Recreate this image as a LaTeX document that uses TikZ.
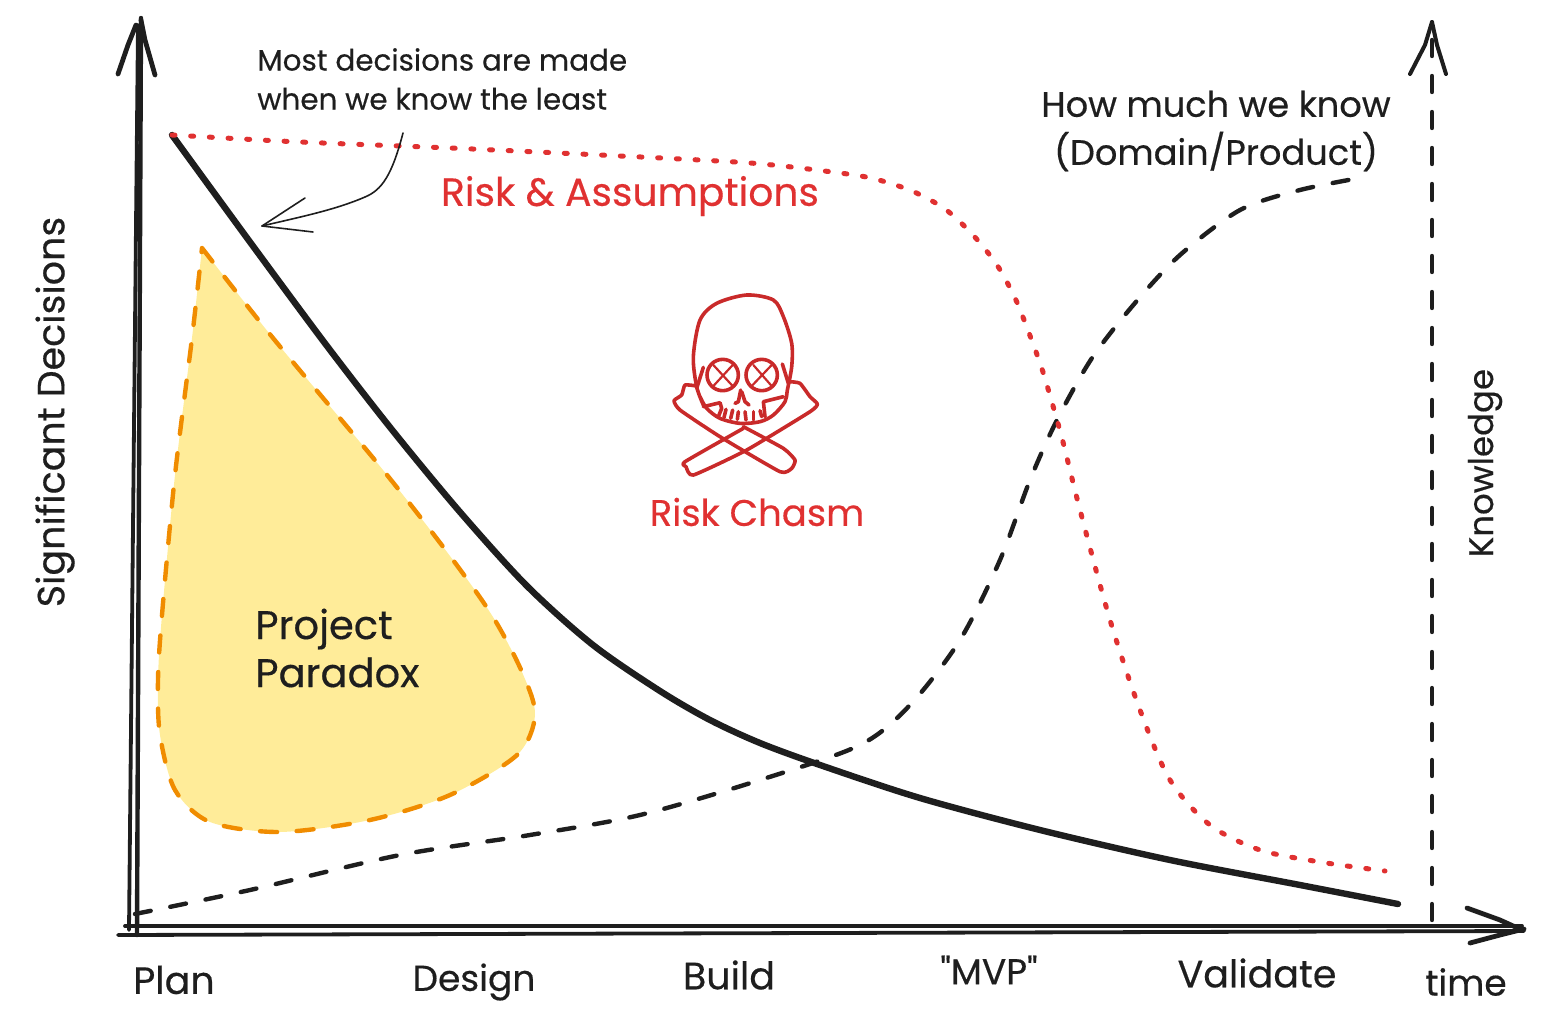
\documentclass[tikz,border=0pt]{standalone}
\usepackage{fontspec}
\newfontfamily\handfont[FakeBold=0.4]{Poppins}
\definecolor{inkblack}{HTML}{1E1E1E}
\definecolor{riskred}{HTML}{E03131}
\definecolor{skullred}{HTML}{C92A2A}
\definecolor{blobfill}{HTML}{FFEC99}
\definecolor{blobline}{HTML}{F08C00}
\tikzset{
	sketch/.style={draw=inkblack,line cap=round,line join=round},
	axis line/.style={sketch,line width=1.9pt},
	arrow head/.style={sketch,line width=2.4pt},
	dash line/.style={sketch,line width=2.2pt,dash pattern=on 8pt off 10pt},
	label small/.style={text=inkblack,font=\handfont\fontsize{14.7}{19.5}\selectfont,align=left,inner sep=0pt},
	label big/.style={text=inkblack,font=\handfont\fontsize{#1}{24}\selectfont,align=center,inner sep=0pt},
	label big/.default=17,
	label red/.style={label big=#1,text=riskred},
	skull line/.style={draw=skullred,line width=1.8pt,line cap=round,line join=round},
}
\begin{document}
\begin{tikzpicture}[x=0.5pt,y=-0.5pt]
	\useasboundingbox (0,0) rectangle (1543,1028);
	% project paradox
	\draw[draw=blobline,fill=blobfill,line width=2.2pt,line cap=round,dash pattern=on 8.5pt off 9.8pt]
		plot[smooth] coordinates {(202,248) (273,338) (383,470) (450,556) (493,617) (522,672) (535,715) (517,755) (450,795) (370,820) (280,832) (210,822) (175,790) (160,735) (158,680) (162,615) (175,475) (192,338) (202,248)};
	% knowledge curve
	\draw[dash line]
		plot[smooth] coordinates {(135,914) (250,890) (400,855) (530,835) (640,815) (760,780) (860,745) (910,705) (960,640) (1000,560) (1030,480) (1057,420) (1092,358) (1135,303) (1180,255) (1240,210) (1300,190) (1365,177)};
	% decisions curve
	\draw[sketch,line width=3.2pt]
		plot[smooth] coordinates {(172,135) (250,242) (327,346) (393,431) (460,512) (527,586) (593,645) (660,691) (710,720) (760,743) (820,765) (920,798) (1040,830) (1170,860) (1300,885) (1398,904)};
	% risk curve
	\draw[draw=riskred,line width=2.5pt,line cap=round,dash pattern=on 1.5pt off 7.85pt]
		plot[smooth] coordinates {(172,135) (300,142) (450,148) (600,155) (750,163) (840,173) (875,179) (912,191) (945,209) (973,235) (997,265) (1015,298) (1029,333) (1042,369) (1053,406) (1063,442) (1080,510) (1110,620) (1140,710) (1170,780) (1210,825) (1260,850) (1320,862) (1385,871)};
	% axes
	\coordinate (origin) at (129,930);
	\coordinate (ytop) at (138,25);
	\coordinate (xend) at (1524,931);
	\coordinate (ktop) at (1432,40);
	\coordinate (kbottom) at (1432,926);
	\draw[axis line] (origin)-- (ytop);
	\draw[axis line,line width=2.2pt] (137,935)-- (141,18);
	\draw[arrow head] (118,74)-- (128,45)-- (136,25);
	\draw[arrow head] (155,75)-- (145,40)-- (141,20);
	\draw[axis line] (118,935)-- (xend);
	\draw[axis line] (125,926)-- (1522,926);
	\draw[arrow head] (1467,908)-- (1500,920)-- (1522,930);
	\draw[arrow head] (1470,943)-- (1500,935)-- (1524,929);
	\draw[dash line] (ktop)-- (kbottom);
	\draw[arrow head,line width=2pt] (1410,74)-- (1425,45)-- (1432,22);
	\draw[arrow head,line width=2pt] (1446,74)-- (1437,45)-- (1432,22);
	% annotation arrow
	\draw[sketch,line width=0.8pt] (403,133) .. controls (392,175) and (382,190) .. (365,197) .. controls (335,210) and (300,217) .. (262,226);
	\draw[sketch,line width=0.8pt] (305,198)-- (262,226)-- (313,232);
	% skull
	\begin{scope}[shift={(650,280)},x=0.1667pt,y=-0.1667pt]
		\draw[skull line] plot[smooth] coordinates {(160,375) (140,320) (130,230) (150,120) (200,70) (290,45) (370,60) (400,110) (425,190) (425,260) (412,330) (405,365) (370,405) (330,425) (270,430) (210,415) (170,385) (150,350)};
		\draw[skull line] (218,285) circle[radius=47];
		\draw[skull line] (335,285) circle[radius=47];
		\draw[skull line,line width=1.1pt] (190,255)-- (248,318) (248,255)-- (190,318);
		\draw[skull line,line width=1.1pt] (305,318)-- (365,255) (310,255)-- (365,318);
		\draw[skull line] (160,262)-- (140,325);
		\draw[skull line] (397,252)-- (415,310);
		\draw[skull line] (272,330)-- (265,365)-- (255,370);
		\draw[skull line] (275,335)-- (285,365)-- (297,375);
		\draw[skull line] (160,380)-- (210,368)-- (215,385)-- (205,410);
		\draw[skull line] (345,410)-- (340,365)-- (400,350);
		\draw[skull line] (228,388)-- (222,412);
		\draw[skull line] (248,390)-- (242,415);
		\draw[skull line] (265,395)-- (262,418);
		\draw[skull line] (285,395)-- (288,420);
		\draw[skull line] (310,395)-- (310,420);
		\draw[skull line] (330,392)-- (335,410);
		\draw[skull line] plot[smooth,tension=0.3] coordinates {(140,318) (105,315) (95,345) (72,362) (90,390) (210,470) (390,575) (425,565) (435,540) (400,505) (280,440)};
		\draw[skull line] plot[smooth,tension=0.3] coordinates {(420,305) (450,310) (480,350) (502,372) (480,395) (290,510) (130,585) (108,560) (105,545) (280,445)};
	\end{scope}
	% labels
	\node[label small,anchor=west] (mostdecisions) at (257,79) {Most decisions are made\\when we know the least};
	\node[label big=17.6] (howmuch) at (1216,131) {How much we know\\(Domain/Product)};
	\node[label red=19.6] (riskassumptions) at (630,196) {Risk \& Assumptions};
	\node[label red=18.5] (riskchasm) at (757,512) {Risk Chasm};
	\node[label big=20,align=left,anchor=west] (paradox) at (255,648) {Project\\Paradox};
	\node[label big=19,rotate=90] (decisions) at (55,412) {Significant Decisions};
	\node[label big=17,rotate=90] (knowledge) at (1485,463) {Knowledge};
	\node[label big=19] (plan) at (174,980) {Plan};
	\node[label big=18] (design) at (474,982) {Design};
	\node[label big=19] (build) at (729,975) {Build};
	\node[label big=18] (mvp) at (989,970) {"MVP"};
	\node[label big=19] (validate) at (1257,973) {Validate};
	\node[label big=18] (time) at (1466,982) {time};
\end{tikzpicture}
\end{document}
